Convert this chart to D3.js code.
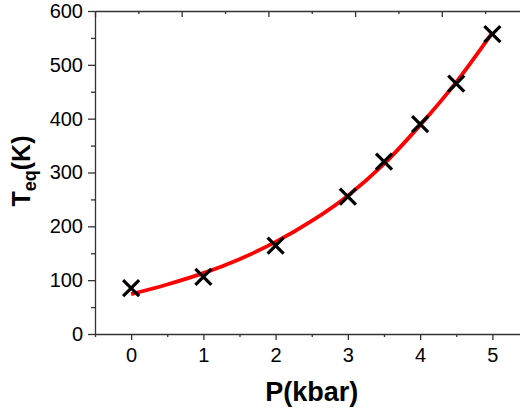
<!DOCTYPE html>
<html>
<head>
<meta charset="utf-8">
<script src="https://cdn.jsdelivr.net/npm/d3@7"></script>
<style>
  body { margin: 0; background: #fff; }
  text { font-family: Arial, "Liberation Sans", sans-serif; }
  .axis path, .axis line { stroke: #333; stroke-width: 1.3; }
</style>
</head>
<body>
<svg class="js-chart"></svg>
<script>
// measured points
const pressure = [0, 1, 2, 3, 3.5, 4, 4.5, 5];
const tempEq = [85, 106, 164, 255, 320, 390, 465, 557];

// fitted curve
const fitP = [0, 0.5, 1, 1.5, 2, 2.5, 3, 3.5, 4, 4.5, 5];
const fitT = [74, 92, 113, 139, 171, 210, 257, 316, 388, 468, 560];

const xTicks = [0, 1, 2, 3, 4, 5];
const xMinor = [-0.5, 0.5, 1.5, 2.5, 3.5, 4.5, 5.5];
const yTicks = [0, 100, 200, 300, 400, 500, 600];
const yMinor = [50, 150, 250, 350, 450, 550];
const topTicks = [0, 1, 2, 3, 4, 5];
const topMinor = [0.5, 1.5, 2.5, 3.5, 4.5];

const drawChart = () => {
    const svgWidth = 520;
    const svgHeight = 412;
    const left = 95, right = 528.5, top = 11, bottom = 334;

    const svg = d3.select('.js-chart')
        .attr('width', svgWidth)
        .attr('height', svgHeight);

    const x = d3.scaleLinear().domain([-0.5, 5.5]).range([left, right]);
    const y = d3.scaleLinear().domain([0, 600]).range([bottom, top]);
    // top frame ticks don't line up with the bottom axis in the original
    const xTop = d3.scaleLinear().domain([0, 5]).range([left, right]);

    // bottom axis
    svg.append('g')
        .attr('class', 'axis')
        .attr('transform', `translate(0,${bottom})`)
        .call(d3.axisBottom(x).tickValues(xTicks).tickFormat(d3.format('d'))
            .tickSize(6).tickSizeOuter(0).tickPadding(8))
        .call(g => g.selectAll('text').attr('font-size', 20).attr('fill', '#000'));
    svg.append('g')
        .attr('class', 'axis')
        .attr('transform', `translate(0,${bottom})`)
        .call(d3.axisBottom(x).tickValues(xMinor).tickSize(3).tickFormat(''))
        .call(g => g.select('.domain').remove());

    // left axis
    svg.append('g')
        .attr('class', 'axis')
        .attr('transform', `translate(${left},0)`)
        .call(d3.axisLeft(y).tickValues(yTicks).tickFormat(d3.format('d'))
            .tickSize(7).tickSizeOuter(0).tickPadding(5))
        .call(g => g.selectAll('text').attr('font-size', 20).attr('fill', '#000'));
    svg.append('g')
        .attr('class', 'axis')
        .attr('transform', `translate(${left},0)`)
        .call(d3.axisLeft(y).tickValues(yMinor).tickSize(4).tickFormat(''))
        .call(g => g.select('.domain').remove());

    // top frame, ticks pointing in
    svg.append('g')
        .attr('class', 'axis')
        .attr('transform', `translate(0,${top})`)
        .call(d3.axisTop(xTop).tickValues(topTicks).tickSizeInner(-6).tickSizeOuter(0).tickFormat(''));
    svg.append('g')
        .attr('class', 'axis')
        .attr('transform', `translate(0,${top})`)
        .call(d3.axisTop(xTop).tickValues(topMinor).tickSize(-3).tickFormat(''))
        .call(g => g.select('.domain').remove());

    // fit line
    const line = d3.line()
        .x((d, i) => x(fitP[i]))
        .y(d => y(d))
        .curve(d3.curveMonotoneX);

    svg.append('path')
        .attr('d', line(fitT))
        .attr('fill', 'none')
        .attr('stroke', '#ff0000')
        .attr('stroke-width', 3.8);

    // X markers
    svg.selectAll('.mark')
        .data(tempEq)
        .enter().append('path')
        .attr('class', 'mark')
        .attr('transform', (d, i) => `translate(${x(pressure[i])},${y(d)})`)
        .attr('d', 'M-8,-8L8,8M-8,8L8,-8')
        .attr('stroke', '#000')
        .attr('stroke-width', 3.2)
        .attr('fill', 'none');

    // labels
    svg.append('text')
        .attr('x', x(2.5))
        .attr('y', 401)
        .attr('text-anchor', 'middle')
        .attr('font-size', 27)
        .attr('font-weight', 'bold')
        .text('P(kbar)');

    const yLabel = svg.append('text')
        .attr('transform', 'translate(30,171) rotate(-90)')
        .attr('text-anchor', 'middle')
        .attr('font-size', 25)
        .attr('font-weight', 'bold');
    yLabel.append('tspan').text('T');
    yLabel.append('tspan').attr('font-size', 18).attr('dy', 6).text('eq');
    yLabel.append('tspan').attr('dy', -6).text('(K)');
};

drawChart();
</script>
</body>
</html>
